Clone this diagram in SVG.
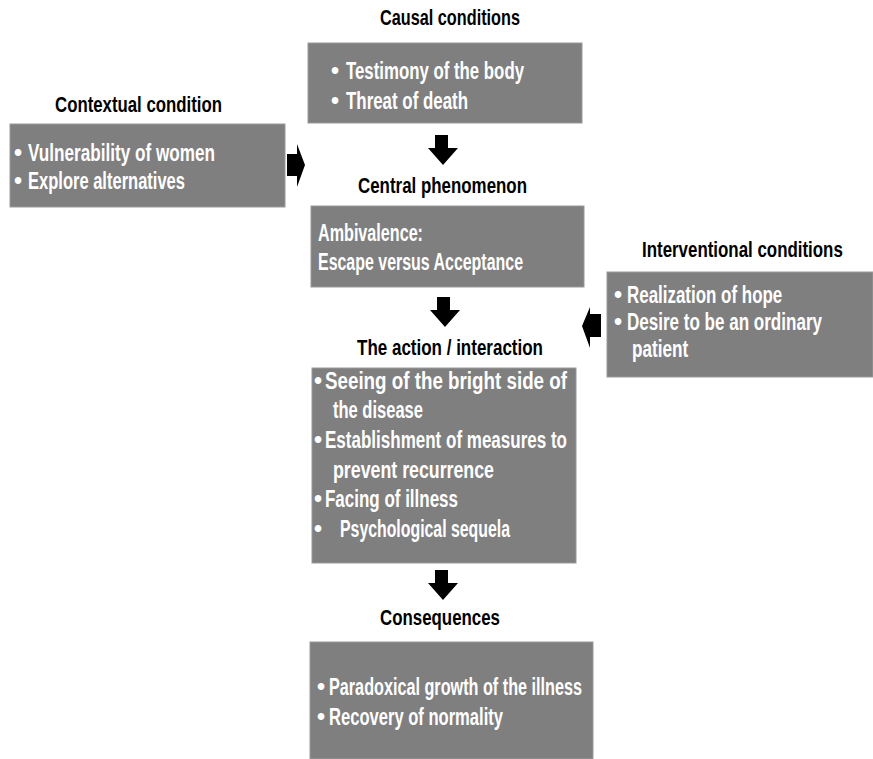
<svg xmlns="http://www.w3.org/2000/svg" width="873" height="759" viewBox="0 0 873 759">
<style>
.box{fill:#7f7f7f;stroke:#9a9a9a;stroke-width:1}
.ttl{font-family:"Liberation Sans",Arial,sans-serif;font-size:21.5px;fill:#000;font-weight:bold}
.bd{font-family:"Liberation Sans",Arial,sans-serif;font-size:23px;fill:#fff;font-weight:bold}
.arr{fill:#000}
</style>
<rect width="873" height="759" fill="#fff"/>
<g id="causal">
<text class="ttl" x="380" y="25" textLength="140" lengthAdjust="spacingAndGlyphs">Causal conditions</text>
<rect class="box" x="308" y="43" width="274" height="80"/>
<text class="bd" x="331" y="79">•</text><text class="bd" x="346" y="79" textLength="178" lengthAdjust="spacingAndGlyphs">Testimony of the body</text>
<text class="bd" x="331" y="109">•</text><text class="bd" x="346" y="109" textLength="122" lengthAdjust="spacingAndGlyphs">Threat of death</text>
</g>
<g id="contextual">
<text class="ttl" x="55" y="112" textLength="167" lengthAdjust="spacingAndGlyphs">Contextual condition</text>
<rect class="box" x="10" y="124" width="275" height="83"/>
<text class="bd" x="14" y="161">•</text><text class="bd" x="28" y="161" textLength="187" lengthAdjust="spacingAndGlyphs">Vulnerability of women</text>
<text class="bd" x="14" y="189">•</text><text class="bd" x="28" y="189" textLength="157" lengthAdjust="spacingAndGlyphs">Explore alternatives</text>
</g>
<g id="central">
<text class="ttl" x="358" y="193" textLength="169" lengthAdjust="spacingAndGlyphs">Central phenomenon</text>
<rect class="box" x="311" y="206" width="273" height="81"/>
<text class="bd" x="318" y="241" textLength="105" lengthAdjust="spacingAndGlyphs">Ambivalence:</text>
<text class="bd" x="318" y="270" textLength="205" lengthAdjust="spacingAndGlyphs">Escape versus Acceptance</text>
</g>
<g id="interventional">
<text class="ttl" transform="translate(642,257) scale(0.8,1)" x="0" y="0" textLength="251" lengthAdjust="spacingAndGlyphs">Interventional conditions</text>
<rect class="box" x="607" y="272" width="266" height="105"/>
<text class="bd" x="614" y="303">•</text><text class="bd" transform="translate(627,303) scale(0.75,1)" x="0" y="0" textLength="207" lengthAdjust="spacingAndGlyphs">Realization of hope</text>
<text class="bd" x="614" y="330">•</text><text class="bd" transform="translate(627,330) scale(0.75,1)" x="0" y="0" textLength="260" lengthAdjust="spacingAndGlyphs">Desire to be an ordinary</text>
<text class="bd" transform="translate(632,357) scale(0.75,1)" x="0" y="0" textLength="75" lengthAdjust="spacingAndGlyphs">patient</text>
</g>
<g id="action">
<text class="ttl" x="357" y="355" textLength="186" lengthAdjust="spacingAndGlyphs">The action / interaction</text>
<rect class="box" x="312" y="368" width="264" height="195"/>
<text class="bd" x="314" y="389">•</text><text class="bd" x="325" y="389" textLength="242" lengthAdjust="spacingAndGlyphs">Seeing of the bright side of</text>
<text class="bd" x="333" y="418" textLength="90" lengthAdjust="spacingAndGlyphs">the disease</text>
<text class="bd" x="314" y="448">•</text><text class="bd" x="325" y="448" textLength="242" lengthAdjust="spacingAndGlyphs">Establishment of measures to</text>
<text class="bd" x="333" y="478" textLength="161" lengthAdjust="spacingAndGlyphs">prevent recurrence</text>
<text class="bd" x="314" y="507">•</text><text class="bd" x="325" y="507" textLength="133" lengthAdjust="spacingAndGlyphs">Facing of illness</text>
<text class="bd" x="314" y="537">•</text><text class="bd" x="340" y="537" textLength="170" lengthAdjust="spacingAndGlyphs">Psychological sequela</text>
</g>
<g id="consequences">
<text class="ttl" x="380" y="625" textLength="120" lengthAdjust="spacingAndGlyphs">Consequences</text>
<rect class="box" x="310" y="642" width="283" height="117"/>
<text class="bd" x="317" y="695">•</text><text class="bd" x="329" y="695" textLength="253" lengthAdjust="spacingAndGlyphs">Paradoxical growth of  the illness</text>
<text class="bd" x="317" y="725">•</text><text class="bd" x="329" y="725" textLength="174" lengthAdjust="spacingAndGlyphs">Recovery of normality</text>
</g>
<g id="connectors">
<polygon class="arr" points="435,135 448,135 448,148 458,148 443,165 428,148 435,148"/>
<polygon class="arr" points="437,297 450,297 450,310 460,310 445,327 430,310 437,310"/>
<polygon class="arr" points="435,570 448,570 448,583 458,583 443,600 428,583 435,583"/>
<polygon class="arr" points="287,154 297,154 297,144 305,165 297,187 297,176 287,176"/>
<polygon class="arr" points="601,314 590,314 590,307 582,326 590,348 590,337 601,337"/>
</g>
</svg>
